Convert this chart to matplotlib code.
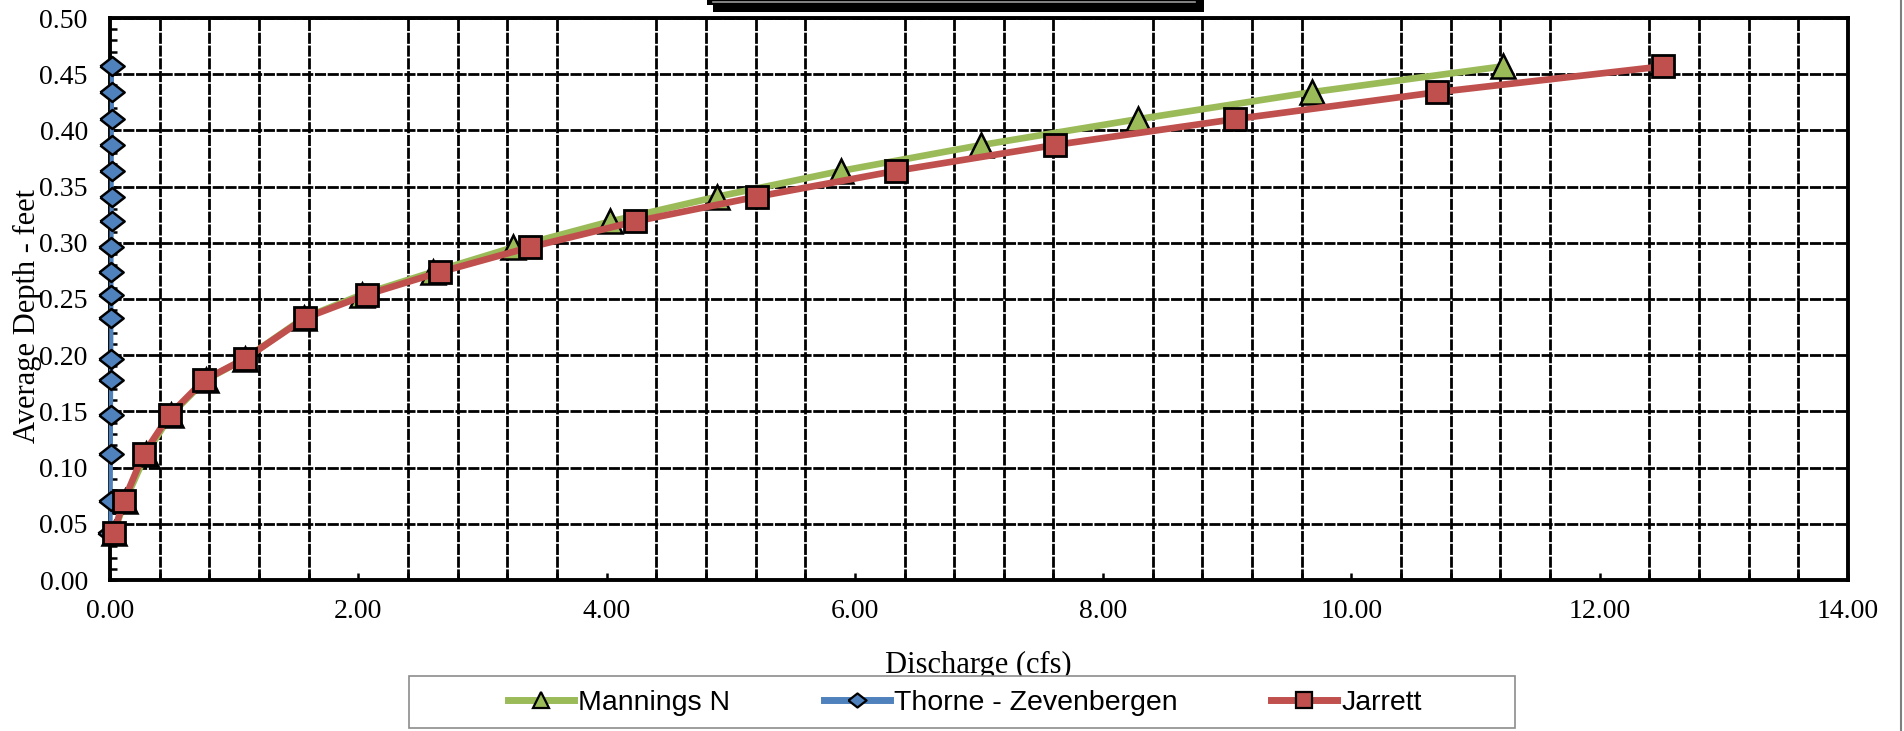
import numpy as np
import matplotlib.pyplot as plt
from matplotlib.lines import Line2D
from matplotlib.patches import Rectangle
from matplotlib.ticker import MultipleLocator, FormatStrFormatter

# ============================================================
# DATA
# ============================================================

depth = [0.042, 0.070, 0.112, 0.147, 0.178, 0.197, 0.233, 0.254, 0.274,
         0.296, 0.319, 0.341, 0.364, 0.387, 0.410, 0.434, 0.457]

q_mannings = [0.03, 0.12, 0.29, 0.49, 0.77, 1.09, 1.56, 2.03, 2.60,
              3.25, 4.03, 4.89, 5.89, 7.02, 8.28, 9.68, 11.22]

q_thorne = [0.004, 0.006, 0.007, 0.008, 0.009, 0.010, 0.011, 0.011, 0.012,
            0.012, 0.013, 0.013, 0.014, 0.014, 0.015, 0.015, 0.016]

q_jarrett = [0.03, 0.11, 0.27, 0.48, 0.76, 1.09, 1.57, 2.07, 2.66,
             3.38, 4.23, 5.21, 6.33, 7.61, 9.06, 10.69, 12.51]

labels = ["Mannings N", "Thorne - Zevenbergen", "Jarrett"]

GREEN = "#9BBB59"
BLUE = "#4F81BD"
RED = "#C0504D"

# wide, flat diamond like the Excel marker
diamond = [(-1, 0), (0, 0.78), (1, 0), (0, -0.78), (-1, 0)]

SERIF = ["Liberation Serif", "DejaVu Serif"]
SANS = ["Liberation Sans", "DejaVu Sans"]

W, H = 1904, 731

# ============================================================
# FIGURE
# ============================================================

fig = plt.figure(figsize=(W / 100, H / 100), dpi=100)
ax = fig.add_axes([110 / W, 1 - 580 / H, 1738 / W, 562 / H])

ax.plot(q_mannings, depth, color=GREEN, lw=4.8, marker="^", ms=17,
        mfc=GREEN, mec="black", mew=1.8, zorder=3, clip_on=False)
ax.plot(q_thorne, depth, color=BLUE, lw=3.0, marker=diamond, ms=17.5,
        mfc=BLUE, mec="black", mew=1.8, zorder=4, clip_on=False)
ax.plot(q_jarrett, depth, color=RED, lw=4.8, marker="s", ms=15.5,
        mfc=RED, mec="black", mew=2.0, zorder=5, clip_on=False)

ax.set_xlim(0, 14)
ax.set_ylim(0, 0.5)

ax.xaxis.set_major_locator(MultipleLocator(2))
ax.xaxis.set_minor_locator(MultipleLocator(0.4))
ax.yaxis.set_major_locator(MultipleLocator(0.05))
ax.yaxis.set_minor_locator(MultipleLocator(0.01))
ax.xaxis.set_major_formatter(FormatStrFormatter("%.2f"))
ax.yaxis.set_major_formatter(FormatStrFormatter("%.2f"))

# Excel "round dot" black grid: almost solid with tiny light gaps
grid_style = dict(color="black", lw=2.0, linestyle=(0, (4, 0.6)))
ax.grid(True, which="minor", axis="x", **grid_style)
ax.grid(True, which="major", axis="y", **grid_style)

ax.tick_params(which="both", direction="in", color="black", width=1.8,
               length=5)
ax.tick_params(axis="y", which="major", pad=16, labelsize=20)
ax.tick_params(axis="x", which="major", pad=14, labelsize=20)
for lab in ax.get_xticklabels() + ax.get_yticklabels():
    lab.set_family(SERIF)

for sp in ax.spines.values():
    sp.set_linewidth(2.8)
    sp.set_color("black")

# ============================================================
# LABELS
# ============================================================

fig.text(27 / W, 1 - 316 / H, "Average Depth - feet", rotation=90,
         ha="center", va="center", fontsize=22, family=SERIF)
fig.text(978 / W, 1 - 673 / H, "Discharge (cfs)", ha="center",
         va="baseline", fontsize=22, family=SERIF)

# ============================================================
# LEGEND
# ============================================================

fig.add_artist(Rectangle((409 / W, 1 - 728 / H), 1106 / W, 52 / H,
                         transform=fig.transFigure, facecolor="white",
                         edgecolor="#8c8c8c", lw=1.2, zorder=10))

handles = [
    Line2D([], [], color=GREEN, lw=5, marker="^", ms=12, mfc=GREEN,
           mec="black", mew=1.6),
    Line2D([], [], color=BLUE, lw=5, marker=diamond, ms=13, mfc=BLUE,
           mec="black", mew=1.6),
    Line2D([], [], color=RED, lw=5, marker="s", ms=11, mfc=RED,
           mec="black", mew=1.6),
]
leg = fig.legend(handles, labels, loc="center", ncol=3,
                 bbox_to_anchor=(965 / W, 1 - 703 / H),
                 frameon=False, handlelength=2.3, handletextpad=0.15,
                 columnspacing=3.3, prop={"family": SANS, "size": 20.5})
leg.set_zorder(11)

# ============================================================
# CLIPPED TITLE BOX AND CHART BORDER
# ============================================================

fig.add_artist(Rectangle((713 / W, 1 - 12 / H), 491 / W, 12 / H,
                         transform=fig.transFigure, facecolor="black",
                         edgecolor="none"))
fig.add_artist(Rectangle((707 / W, 1 - 5 / H), 8 / W, 5 / H,
                         transform=fig.transFigure, facecolor="black",
                         edgecolor="none"))
fig.add_artist(Line2D([713 / W, 1195 / W], [1 - 1.5 / H, 1 - 1.5 / H],
                      transform=fig.transFigure, color="#9a9a9a", lw=1.2))
fig.add_artist(Line2D([1901 / W, 1901 / W], [0, 1],
                      transform=fig.transFigure, color="#7f7f7f", lw=1.5))

fig.savefig("out.png", dpi=100)
